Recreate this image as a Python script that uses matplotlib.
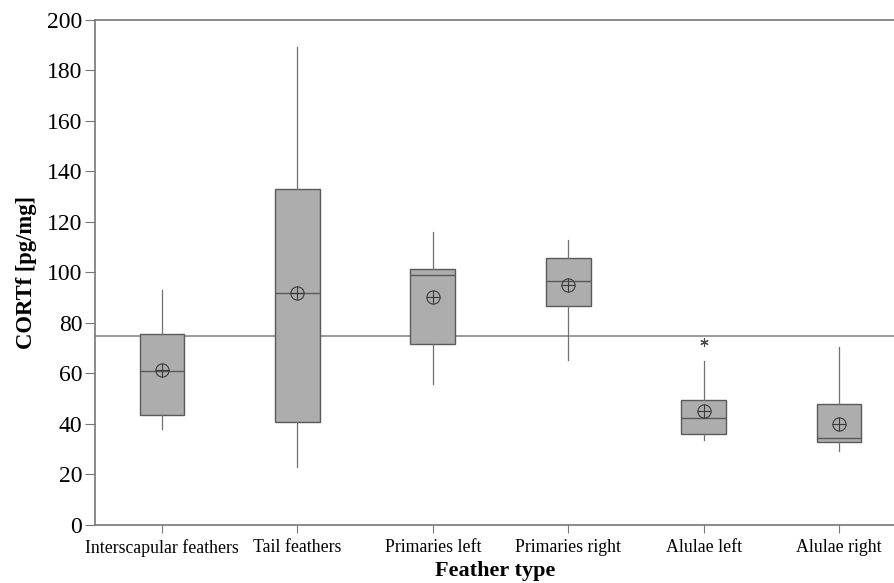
import matplotlib
matplotlib.use("Agg")
import matplotlib.pyplot as plt

# data (CORTf, pg/mg)
categories = ["Interscapular feathers", "Tail feathers", "Primaries left",
              "Primaries right", "Alulae left", "Alulae right"]
whislo = [38.0, 23.0, 55.8, 65.5, 33.5, 29.5]
q1 = [43.6, 40.8, 71.7, 86.8, 35.9, 32.7]
med = [60.8, 91.8, 98.9, 96.7, 42.3, 34.5]
q3 = [75.7, 133.2, 101.4, 105.9, 49.4, 47.9]
whishi = [93.2, 189.3, 115.9, 112.7, 65.0, 70.4]
means = [61.4, 92.0, 90.4, 95.0, 45.1, 40.1]
fliers = [[], [], [], [], [72.3], []]
ref_level = 75.0

plt.rcParams['font.family'] = ['Liberation Serif', 'DejaVu Serif']

fig = plt.figure(figsize=(8.95, 5.83), dpi=100)
ax = fig.add_axes([0.106, 0.0995, 0.894, 0.8662])

stats = []
for i, name in enumerate(categories):
    stats.append(dict(label=name, whislo=whislo[i], q1=q1[i], med=med[i],
                      q3=q3[i], whishi=whishi[i], mean=means[i], fliers=fliers[i]))

pos = list(range(len(categories)))
gray_edge = "#5a5a5a"
ax.axhline(ref_level, color="#8a8a8a", lw=1.2, zorder=1)
ax.bxp(stats, positions=pos, widths=0.33, patch_artist=True,
       showcaps=False, showmeans=False,
       boxprops=dict(facecolor="#adadad", edgecolor=gray_edge, linewidth=1.0),
       medianprops=dict(color=gray_edge, linewidth=1.0),
       whiskerprops=dict(color="#707070", linewidth=0.9),
       flierprops=dict(marker=(6, 2, 0), markersize=6, markeredgecolor="#444444",
                       markeredgewidth=0.8, linestyle="none"),
       zorder=2)

# mean symbol: circle with crosshair
ax.plot(pos, means, linestyle="none", marker="o", markersize=9.5,
        markerfacecolor="none", markeredgecolor="#3a3a3a", markeredgewidth=0.8, zorder=4)
ax.plot(pos, means, linestyle="none", marker="+", markersize=9.5,
        markeredgecolor="#3a3a3a", markeredgewidth=0.8, zorder=4)

ax.set_xlim(-0.495, 5.413)
ax.set_ylim(0, 200)
ax.set_yticks(range(0, 201, 20))
ax.set_xticks(pos)
ax.set_xticklabels(categories, fontsize=12.8)
ax.tick_params(axis="y", labelsize=17, length=7, color="#777777", pad=2)
ax.tick_params(axis="x", length=6, color="#777777", pad=4)

for s in ["left", "top", "bottom"]:
    ax.spines[s].set_color("#777777")
    ax.spines[s].set_linewidth(1.2)
ax.spines["right"].set_visible(False)

ax.set_ylabel("CORTf [pg/mg]", fontsize=16.3, fontweight="bold", labelpad=7)
ax.set_xlabel("Feather type", fontsize=16, fontweight="bold", labelpad=3)

fig.savefig("out.png", dpi=100)
